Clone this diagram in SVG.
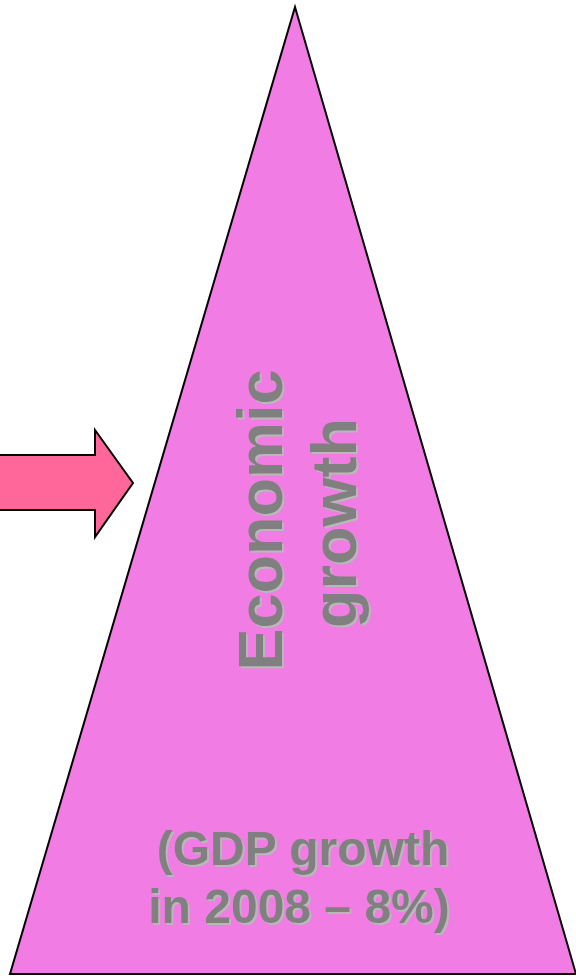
<svg xmlns="http://www.w3.org/2000/svg" width="576" height="979" viewBox="0 0 576 979">
<defs>
<filter id="sh" x="-10%" y="-10%" width="120%" height="120%" filterUnits="objectBoundingBox">
<feOffset in="SourceAlpha" dx="2" dy="2" result="o"/>
<feFlood flood-color="#b8b8b8"/>
<feComposite in2="o" operator="in" result="s"/>
<feMerge><feMergeNode in="s"/><feMergeNode in="SourceGraphic"/></feMerge>
</filter>
</defs>
<style>
.t{font-family:"Liberation Sans",Arial,sans-serif;font-weight:bold;text-anchor:middle;fill:#808080}
</style>
<rect width="576" height="979" fill="#ffffff"/>
<g id="arrow">
<polygon points="-10,455 95,455 95,430 133,483 95,537 95,510 -10,510" fill="#ff6699" stroke="#000" stroke-width="2" stroke-linejoin="miter"/>
</g>
<g id="pyramid">
<polygon points="295,7 576,974 10,974" fill="#f07ce4" stroke="#000" stroke-width="2" stroke-linejoin="miter"/>
</g>
<g id="labels" filter="url(#sh)">
<text class="t" font-size="63" transform="translate(282,520) rotate(-90)">Economic</text>
<text class="t" font-size="63" transform="translate(356,523) rotate(-90)">growth</text>
<text class="t" font-size="48" x="303" y="865">(GDP growth</text>
<text class="t" font-size="48" x="299" y="923">in 2008 – 8%)</text>
</g>
</svg>
